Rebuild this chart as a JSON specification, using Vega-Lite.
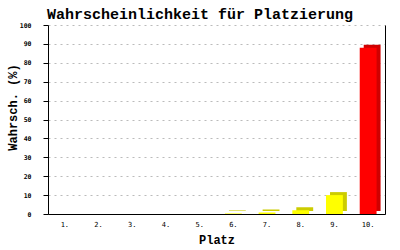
{
  "$schema": "https://vega.github.io/schema/vega-lite/v6.json",
  "width": 337,
  "height": 189,
  "autosize": {"type": "none"},
  "padding": {"left": 48, "top": 25, "right": 15, "bottom": 36},
  "background": "white",
  "title": {
    "text": "Wahrscheinlichkeit für Platzierung",
    "font": "Liberation Mono",
    "fontSize": 15,
    "fontWeight": "bold",
    "color": "black",
    "anchor": "start",
    "frame": "group",
    "dx": -1,
    "dy": 19,
    "baseline": "alphabetic",
    "offset": 7
  },
  "data": {
    "values": [
      {"Platz": "1.", "Wahrscheinlichkeit": 0},
      {"Platz": "2.", "Wahrscheinlichkeit": 0},
      {"Platz": "3.", "Wahrscheinlichkeit": 0},
      {"Platz": "4.", "Wahrscheinlichkeit": 0},
      {"Platz": "5.", "Wahrscheinlichkeit": 0},
      {"Platz": "6.", "Wahrscheinlichkeit": 0.3},
      {"Platz": "7.", "Wahrscheinlichkeit": 0.8},
      {"Platz": "8.", "Wahrscheinlichkeit": 2.0},
      {"Platz": "9.", "Wahrscheinlichkeit": 10.0},
      {"Platz": "10.", "Wahrscheinlichkeit": 88.0}
    ]
  },
  "transform": [
    {"joinaggregate": [{"op": "max", "field": "Wahrscheinlichkeit", "as": "maxW"}]}
  ],
  "encoding": {
    "x": {
      "field": "Platz",
      "type": "nominal",
      "sort": null,
      "scale": {"paddingInner": 0.5, "paddingOuter": 0.25},
      "axis": {
        "title": "Platz",
        "titleFont": "Liberation Mono",
        "titleFontSize": 12,
        "titleFontWeight": "bold",
        "titleColor": "black",
        "titleBaseline": "alphabetic",
        "titleY": 29,
        "labelAngle": 0,
        "labelFont": "DejaVu Sans Mono",
        "labelFontSize": 7,
        "labelColor": "black",
        "labelPadding": 6,
        "ticks": false,
        "tickSize": 0,
        "domainColor": "black",
        "domainWidth": 1,
        "grid": false
      }
    },
    "y": {
      "field": "Wahrscheinlichkeit",
      "type": "quantitative",
      "scale": {"domain": [0, 100]},
      "axis": {
        "title": "Wahrsch. (%)",
        "titleFont": "Liberation Mono",
        "titleFontSize": 12,
        "titleFontWeight": "bold",
        "titleColor": "black",
        "titleAngle": -90,
        "titleAlign": "center",
        "titleBaseline": "alphabetic",
        "titleX": -32,
        "titleY": 82,
        "values": [0, 10, 20, 30, 40, 50, 60, 70, 80, 90, 100],
        "labelFont": "DejaVu Sans Mono",
        "labelFontSize": 6.5,
        "labelFontWeight": "bold",
        "labelColor": "black",
        "labelPadding": 12,
        "tickSize": 5,
        "tickColor": "black",
        "domainColor": "black",
        "grid": true,
        "gridColor": "#bbbbbb",
        "gridDash": [2, 4],
        "gridWidth": 1
      }
    }
  },
  "layer": [
    {
      "mark": {"type": "bar", "xOffset": 4, "x2Offset": 4, "yOffset": -3, "y2Offset": -3},
      "encoding": {
        "color": {
          "condition": {"test": "datum.Wahrscheinlichkeit === datum.maxW", "value": "#d00000"},
          "value": "#cccc00"
        }
      }
    },
    {
      "mark": {"type": "bar"},
      "encoding": {
        "y": {
          "field": "Wahrscheinlichkeit",
          "type": "quantitative",
          "scale": {"domain": [0, 100]},
          "axis": {
            "orient": "right",
            "title": null,
            "labels": false,
            "ticks": false,
            "grid": false,
            "domainColor": "black"
          }
        },
        "color": {
          "condition": {"test": "datum.Wahrscheinlichkeit === datum.maxW", "value": "#ff0000"},
          "value": "#ffff00"
        }
      }
    }
  ],
  "resolve": {"axis": {"y": "independent"}},
  "config": {"view": {"stroke": null}}
}
